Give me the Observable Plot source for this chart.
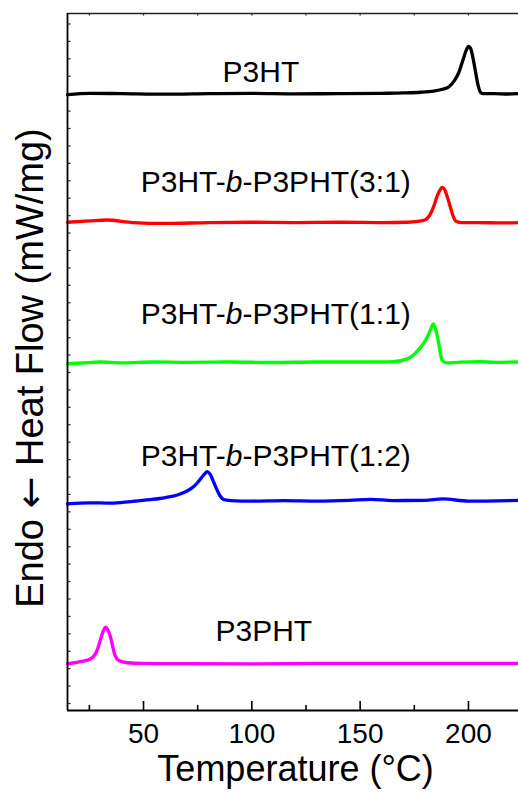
<!DOCTYPE html>
<html><head><meta charset="utf-8">
<script src="https://cdn.jsdelivr.net/npm/d3@7"></script>
<script src="https://cdn.jsdelivr.net/npm/@observablehq/plot@0.6"></script>
<style>
html,body{margin:0;padding:0;background:#fff;}
#chart svg{display:block;}
</style></head><body><div id="chart"></div>
<script>
// ---- data ----
const xDomain = [14.9, 223.1];
const yDomain = [-0.4, 39.6];
const majorTicks = [50, 100, 150, 200];
const minorTicks = [25, 75, 125, 175];
const yTicks = [0,1,2,3,4,5,6,7,8,9,10,11,12,13,14,15,16,17,18,19,20,21,22,23,24,25,26,27,28,29,30,31,32,33,34,35,36,37,38,39];

const seriesNames = ["P3HT", "P3HT-b-P3PHT(3:1)", "P3HT-b-P3PHT(1:1)", "P3HT-b-P3PHT(1:2)", "P3PHT"];
const seriesColors = ["#000000", "#ff0000", "#00ff00", "#0000ff", "#ff00ff"];
const labelT = [86.5, 48.7, 48.7, 48.7, 83.2];
const labelV = [35.69, 29.33, 21.78, 13.65, 3.61];

const xTitle = "Temperature (°C)";
const yTitle = "Endo \u2190 Heat Flow (mW/mg)";

const p3ht = [[14.9,34.94],[25,35.02],[40,35.0],[60,34.97],[80,35.0],[100,35.02],[120,34.99],[140,35.0],[160,35.02],[170,35.04],[178,35.08],[184,35.15],[188,35.25],[191,35.4],[193.5,35.75],[195.5,36.2],[197.5,36.95],[199,37.5],[200,37.71],[201,37.6],[202,37.1],[203.2,36.3],[204.4,35.5],[205.6,35.07],[207,35.0],[212,35.0],[218,34.98],[223.1,35.0]];
const p3ht31 = [[14.9,27.62],[25,27.7],[33,27.75],[45,27.6],[60,27.55],[80,27.6],[100,27.62],[120,27.6],[140,27.62],[160,27.6],[172,27.62],[179,27.71],[182,28.0],[183.8,28.47],[185.5,29.1],[187,29.5],[187.9,29.62],[189,29.5],[190.3,29.05],[191.7,28.47],[193,27.95],[194.3,27.68],[197,27.6],[205,27.6],[215,27.58],[223.1,27.6]];
const p3ht11 = [[14.9,19.5],[22,19.55],[30,19.6],[40,19.55],[55,19.6],[70,19.58],[90,19.6],[110,19.57],[130,19.6],[150,19.6],[160,19.6],[165.4,19.62],[171.7,19.78],[175,20.05],[177.9,20.44],[181,21.02],[182.5,21.45],[183.7,21.78],[184.8,21.5],[186.3,20.65],[187.2,20.0],[187.9,19.68],[190.2,19.55],[195,19.58],[205,19.62],[212,19.58],[223.1,19.6]];
const p3ht12 = [[14.9,11.46],[25,11.52],[35,11.5],[44,11.59],[53,11.7],[60,11.82],[65.6,11.97],[71.7,12.32],[74,12.55],[76.3,12.89],[78,13.15],[79.4,13.31],[80.8,13.15],[82.4,12.7],[83.6,12.35],[84.8,12.03],[87.1,11.7],[90.2,11.65],[100,11.62],[115,11.65],[130,11.62],[145,11.66],[155,11.72],[165,11.65],[180,11.66],[188,11.74],[200,11.62],[223.1,11.66]];
const p3pht = [[14.9,2.28],[20.9,2.41],[25.5,2.56],[27.8,2.85],[29,3.2],[30.2,3.71],[31.4,4.15],[32.5,4.38],[33.6,4.2],[34.8,3.8],[35.7,3.3],[36.6,2.85],[38.6,2.47],[42.5,2.34],[50,2.3],[70,2.29],[100,2.28],[130,2.3],[160,2.3],[190,2.31],[223.1,2.3]];
const seriesData = [p3ht, p3ht31, p3ht11, p3ht12, p3pht];

// ---- build tables ----
const rows = seriesData.flatMap((s, i) => s.map(([t, v]) => ({name: seriesNames[i], t, v})));
const labels = seriesNames.map((name, i) => ({name, t: labelT[i], v: labelV[i]}));

const W = 518, H = 796, ML = 67, MR = 0, MT = 13, MB = 86;
const fw = W - ML - MR, fh = H - MT - MB;

const chart = Plot.plot({
  width: W, height: H,
  marginLeft: ML, marginRight: MR, marginTop: MT, marginBottom: MB,
  x: {domain: xDomain, axis: null},
  y: {domain: yDomain, axis: null},
  color: {domain: seriesNames, range: seriesColors},
  style: {fontFamily: "'Liberation Sans', Arial, sans-serif", background: "white", color: "black"},
  marks: [
    Plot.line(rows, {x: "t", y: "v", z: "name", stroke: "name", strokeWidth: 3.3, curve: "monotone-x"}),
    // frame
    Plot.ruleY([yDomain[0]], {stroke: "#000", strokeWidth: 2}),
    Plot.ruleY([yDomain[1]], {stroke: "#222", strokeWidth: 1.5}),
    Plot.ruleX([xDomain[0]], {stroke: "#000", strokeWidth: 1.8}),
    // ticks (inward)
    Plot.ruleX(majorTicks, {insetTop: fh - 9, stroke: "#000", strokeWidth: 1.6}),
    Plot.ruleX(minorTicks, {insetTop: fh - 5, stroke: "#000", strokeWidth: 1.6}),
    Plot.ruleX(majorTicks.concat(minorTicks), {insetBottom: fh - 2.5, stroke: "#222", strokeWidth: 1.2}),
    Plot.ruleY(yTicks, {insetRight: fw - 3.5, stroke: "#222", strokeWidth: 1.2}),
    // tick labels
    Plot.text(majorTicks, {x: d => d, frameAnchor: "bottom", dy: 13, lineAnchor: "top", text: d => String(d), fontSize: 28, fill: "black"}),
    // axis titles
    Plot.text([{t: 120.2, s: xTitle}], {x: "t", text: "s", frameAnchor: "bottom", dy: 70, lineAnchor: "bottom", fontSize: 36, fill: "black"}),
    Plot.text([yTitle], {text: d => d, frameAnchor: "left", dx: -25, dy: 6, rotate: -90, lineAnchor: "bottom", textAnchor: "middle", fontSize: 38, fill: "black"}),
    // series labels
    Plot.text(labels, {x: "t", y: "v", text: "name", textAnchor: "start", lineAnchor: "bottom", fontSize: 30, fill: "black"})
  ]
});

const ns = "http://www.w3.org/2000/svg";
chart.querySelectorAll("text").forEach(el => {
  const s = el.textContent;
  if (s.includes("-b-")) {
    // italic "b" in block-copolymer names
    const [a, c] = s.split("-b-");
    el.textContent = "";
    const t1 = document.createElementNS(ns, "tspan"); t1.textContent = a + "-";
    const t2 = document.createElementNS(ns, "tspan"); t2.textContent = "b"; t2.setAttribute("font-style", "italic");
    const t3 = document.createElementNS(ns, "tspan"); t3.textContent = "-" + c;
    el.append(t1, t2, t3);
  } else if (s.includes("\u2190")) {
    const [a, c] = s.split("\u2190");
    el.textContent = "";
    const t1 = document.createElementNS(ns, "tspan"); t1.textContent = a;
    const t2 = document.createElementNS(ns, "tspan"); t2.textContent = "\u2190"; t2.setAttribute("font-family", "DejaVu Sans");
    const t3 = document.createElementNS(ns, "tspan"); t3.textContent = c;
    el.append(t1, t2, t3);
  }
});
document.getElementById("chart").appendChild(chart);
</script>
</body></html>
